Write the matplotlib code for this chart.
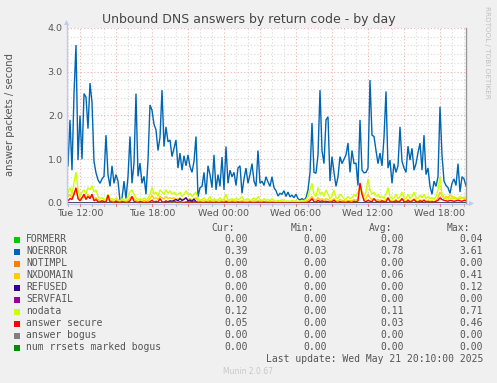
import numpy as np
import matplotlib
matplotlib.use('Agg')
import matplotlib.pyplot as plt
from matplotlib.lines import Line2D
from matplotlib.patches import Polygon, Rectangle

# ---------------- data (10-minute samples, Tue 11:00 .. Wed 20:10) ----------------
noerror = [
    0.85, 1.9, 0.75, 2.5, 3.61, 0.98, 2.0, 1.0, 2.5, 2.42,
    1.7, 2.74, 2.3, 0.95, 0.69, 0.53, 0.45, 0.55, 0.61, 1.55,
    0.65, 0.38, 0.85, 0.45, 0.65, 0.5, 0.05, 0.1, 0.5, 0.1,
    0.6, 1.52, 0.45, 0.91, 2.5, 0.61, 0.91, 0.45, 0.61, 0.2,
    0.98, 2.24, 2.12, 1.8, 1.67, 1.2, 1.5, 2.58, 1.29, 1.74,
    1.4, 1.44, 1.06, 1.25, 1.44, 0.8, 1.14, 0.75, 1.08, 0.85,
    1.1, 0.83, 0.7, 0.95, 1.52, 0.14, 0.35, 0.38, 0.7, 0.2,
    0.85, 0.65, 0.35, 1.1, 0.3, 0.65, 0.38, 1.05, 0.3, 1.29,
    0.45, 0.75, 0.6, 0.7, 0.4, 0.8, 0.85, 0.22, 0.55, 0.8,
    0.45, 0.65, 0.9, 0.5, 0.38, 1.2, 0.45, 0.5, 0.4, 0.6,
    0.48, 0.38, 0.6, 0.35, 0.28, 0.16, 0.22, 0.2, 0.28, 0.15,
    0.25, 0.14, 0.18, 0.12, 0.2, 0.1, 0.07, 0.1, 0.07, 0.12,
    0.3, 0.69, 1.83, 0.7, 0.68, 1.1, 2.58, 1.2, 0.9, 1.9,
    1.97, 0.5, 1.06, 0.7, 0.38, 0.6, 1.06, 0.9, 1.0, 1.1,
    1.37, 0.7, 1.2, 0.9, 0.91, 0.4, 1.9, 0.75, 0.69, 0.7,
    0.8, 2.81, 1.55, 1.52, 1.2, 0.9, 1.14, 0.85, 1.5, 2.55,
    0.8, 0.98, 0.45, 0.9, 0.7, 0.85, 1.74, 0.95, 0.8, 0.7,
    1.3, 0.98, 1.25, 0.75, 0.9, 1.15, 1.37, 0.75, 1.55, 0.65,
    0.8, 0.38, 0.2, 0.5, 0.38, 0.6, 2.2, 1.1, 0.5, 0.4,
    0.35, 0.22, 0.45, 0.55, 0.4, 0.9, 0.25, 0.6, 0.55, 0.39,
]
nodata = [
    0.25, 0.35, 0.2, 0.45, 0.71, 0.3, 0.15, 0.25, 0.3, 0.2,
    0.35, 0.3, 0.4, 0.25, 0.3, 0.15, 0.1, 0.12, 0.08, 0.1,
    0.2, 0.08, 0.1, 0.06, 0.12, 0.08, 0.05, 0.1, 0.07, 0.05,
    0.15, 0.25, 0.3, 0.2, 0.12, 0.08, 0.1, 0.06, 0.12, 0.08,
    0.1, 0.2, 0.35, 0.2, 0.25, 0.15, 0.3, 0.25, 0.2, 0.3,
    0.22, 0.28, 0.2, 0.25, 0.18, 0.2, 0.25, 0.15, 0.2, 0.28,
    0.18, 0.22, 0.15, 0.2, 0.25, 0.1, 0.05, 0.08, 0.12, 0.06,
    0.08, 0.15, 0.05, 0.1, 0.06, 0.08, 0.12, 0.05, 0.1, 0.2,
    0.06, 0.08, 0.1, 0.05, 0.12, 0.07, 0.1, 0.15, 0.06, 0.08,
    0.1, 0.05, 0.08, 0.12, 0.06, 0.15, 0.08, 0.05, 0.1, 0.06,
    0.08, 0.05, 0.1, 0.06, 0.04, 0.06, 0.04, 0.08, 0.05, 0.04,
    0.05, 0.03, 0.06, 0.04, 0.05, 0.03, 0.05, 0.04, 0.06, 0.08,
    0.15, 0.3, 0.45, 0.2, 0.15, 0.35, 0.2, 0.25, 0.15, 0.3,
    0.2, 0.1, 0.15, 0.3, 0.12, 0.1, 0.2, 0.15, 0.1, 0.08,
    0.15, 0.1, 0.12, 0.2, 0.15, 0.25, 0.35, 0.2, 0.15, 0.25,
    0.55, 0.3, 0.2, 0.25, 0.15, 0.2, 0.12, 0.15, 0.1, 0.2,
    0.35, 0.15, 0.1, 0.12, 0.2, 0.1, 0.15, 0.25, 0.12, 0.1,
    0.2, 0.1, 0.15, 0.25, 0.12, 0.1, 0.18, 0.12, 0.2, 0.1,
    0.15, 0.1, 0.12, 0.08, 0.15, 0.3, 0.6, 0.2, 0.12, 0.1,
    0.08, 0.12, 0.1, 0.15, 0.08, 0.1, 0.15, 0.1, 0.14, 0.12,
]
nxdomain = [
    0.15, 0.2, 0.1, 0.25, 0.3, 0.15, 0.1, 0.12, 0.15, 0.1,
    0.2, 0.15, 0.18, 0.1, 0.12, 0.08, 0.05, 0.06, 0.04, 0.05,
    0.1, 0.04, 0.05, 0.03, 0.06, 0.04, 0.03, 0.05, 0.04, 0.03,
    0.06, 0.12, 0.15, 0.1, 0.06, 0.04, 0.05, 0.03, 0.06, 0.04,
    0.05, 0.1, 0.18, 0.1, 0.12, 0.08, 0.15, 0.12, 0.1, 0.14,
    0.1, 0.12, 0.1, 0.12, 0.08, 0.1, 0.12, 0.08, 0.1, 0.12,
    0.08, 0.1, 0.07, 0.1, 0.12, 0.05, 0.03, 0.04, 0.05, 0.03,
    0.04, 0.06, 0.03, 0.05, 0.03, 0.04, 0.05, 0.03, 0.04, 0.06,
    0.03, 0.04, 0.05, 0.03, 0.05, 0.03, 0.04, 0.05, 0.03, 0.04,
    0.04, 0.03, 0.04, 0.05, 0.03, 0.05, 0.04, 0.03, 0.04, 0.03,
    0.03, 0.02, 0.04, 0.03, 0.02, 0.03, 0.02, 0.03, 0.02, 0.02,
    0.02, 0.02, 0.03, 0.02, 0.02, 0.02, 0.03, 0.02, 0.03, 0.04,
    0.06, 0.1, 0.15, 0.08, 0.06, 0.12, 0.08, 0.1, 0.06, 0.1,
    0.08, 0.05, 0.06, 0.1, 0.05, 0.04, 0.08, 0.06, 0.05, 0.04,
    0.06, 0.05, 0.05, 0.08, 0.06, 0.1, 0.41, 0.25, 0.08, 0.1,
    0.2, 0.12, 0.08, 0.1, 0.06, 0.08, 0.05, 0.06, 0.04, 0.08,
    0.12, 0.06, 0.04, 0.05, 0.08, 0.04, 0.06, 0.1, 0.05, 0.04,
    0.08, 0.04, 0.06, 0.1, 0.05, 0.04, 0.07, 0.05, 0.08, 0.04,
    0.06, 0.04, 0.05, 0.03, 0.06, 0.12, 0.25, 0.18, 0.1, 0.15,
    0.12, 0.18, 0.15, 0.1, 0.12, 0.08, 0.1, 0.12, 0.1, 0.08,
]
answer_secure = [
    0.05, 0.1, 0.08, 0.2, 0.35, 0.1, 0.05, 0.12, 0.2, 0.08,
    0.15, 0.1, 0.2, 0.05, 0.08, 0.03, 0.02, 0.05, 0.03, 0.02,
    0.18, 0.03, 0.02, 0.01, 0.04, 0.02, 0.01, 0.03, 0.02, 0.01,
    0.02, 0.05, 0.15, 0.04, 0.02, 0.01, 0.03, 0.02, 0.01, 0.02,
    0.01, 0.03, 0.06, 0.02, 0.04, 0.02, 0.1, 0.03, 0.02, 0.05,
    0.02, 0.03, 0.02, 0.04, 0.02, 0.01, 0.03, 0.02, 0.01, 0.02,
    0.01, 0.02, 0.01, 0.02, 0.03, 0.01, 0.02, 0.01, 0.01, 0.02,
    0.01, 0.02, 0.01, 0.01, 0.02, 0.01, 0.01, 0.02, 0.01, 0.03,
    0.01, 0.01, 0.02, 0.01, 0.01, 0.02, 0.01, 0.02, 0.01, 0.01,
    0.01, 0.02, 0.01, 0.01, 0.01, 0.02, 0.01, 0.01, 0.02, 0.01,
    0.01, 0.01, 0.01, 0.01, 0.0, 0.01, 0.0, 0.01, 0.0, 0.01,
    0.0, 0.01, 0.0, 0.0, 0.01, 0.0, 0.0, 0.01, 0.0, 0.01,
    0.02, 0.05, 0.1, 0.03, 0.02, 0.06, 0.03, 0.05, 0.02, 0.04,
    0.03, 0.02, 0.03, 0.06, 0.02, 0.01, 0.03, 0.02, 0.02, 0.01,
    0.03, 0.02, 0.01, 0.04, 0.02, 0.05, 0.46, 0.2, 0.05, 0.03,
    0.06, 0.04, 0.03, 0.1, 0.04, 0.03, 0.02, 0.05, 0.03, 0.02,
    0.12, 0.03, 0.02, 0.03, 0.05, 0.02, 0.04, 0.1, 0.03, 0.02,
    0.06, 0.02, 0.04, 0.08, 0.03, 0.02, 0.05, 0.03, 0.06, 0.02,
    0.03, 0.02, 0.03, 0.02, 0.04, 0.06, 0.12, 0.08, 0.06, 0.05,
    0.04, 0.06, 0.05, 0.04, 0.05, 0.06, 0.05, 0.04, 0.06, 0.05,
]
refused = ([0.0] * 49 +
           [0.02, 0.03, 0.05, 0.04, 0.06, 0.08, 0.05, 0.1, 0.06, 0.08,
            0.12, 0.05, 0.07, 0.04, 0.09, 0.03] +
           [0.0] * 135)
formerr = ([0.0] * 58 +
           [0.01, 0.02, 0.03, 0.04, 0.02, 0.03, 0.02, 0.01] +
           [0.0] * 134)
zeros = [0.0] * 200

series_names = ["FORMERR", "NOERROR", "NOTIMPL", "NXDOMAIN", "REFUSED",
                "SERVFAIL", "nodata", "answer secure", "answer bogus",
                "num rrsets marked bogus"]
series_values = [formerr, noerror, zeros, nxdomain, refused,
                 zeros, nodata, answer_secure, zeros, zeros]
series_colors = ["#00CC00", "#0066B3", "#FF8000", "#FFCC00", "#330099",
                 "#990099", "#CCFF00", "#FF0000", "#808080", "#008F00"]
cur_vals = ["0.00", "0.39", "0.00", "0.08", "0.00", "0.00", "0.12", "0.05", "0.00", "0.00"]
min_vals = ["0.00", "0.03", "0.00", "0.00", "0.00", "0.00", "0.00", "0.00", "0.00", "0.00"]
avg_vals = ["0.00", "0.78", "0.00", "0.06", "0.00", "0.00", "0.11", "0.03", "0.00", "0.00"]
max_vals = ["0.04", "3.61", "0.00", "0.41", "0.12", "0.00", "0.71", "0.46", "0.00", "0.00"]

x_tick_hours = [12, 18, 24, 30, 36, 42]
x_tick_labels = ["Tue 12:00", "Tue 18:00", "Wed 00:00", "Wed 06:00", "Wed 12:00", "Wed 18:00"]
y_ticks = [0.0, 1.0, 2.0, 3.0, 4.0]

# ---------------- figure ----------------
W, H = 497, 383
fig = plt.figure(figsize=(W / 100, H / 100), dpi=100, facecolor="#F0F0F0")


def fx(x):
    return x / W


def fy(y):
    return 1 - y / H


L, R, T, B = 67, 466, 28, 203
ax = fig.add_axes([fx(L), fy(B), (R - L) / W, (B - T) / H])
ax.set_facecolor("white")

hours = 11 + np.arange(len(noerror)) / 6.0
ax.set_xlim(11 - 1.0 / 12, 11 + (len(noerror) - 1) / 6.0)
ax.set_ylim(0, 4)

# grid
for h in range(11, 45):
    major = (h % 3 == 0)
    ax.axvline(h, color="#F2B0B0" if major else "#DADADA",
               ls=(0, (1, 2)), lw=0.8, zorder=0)
for v in np.arange(0.2, 4.01, 0.2):
    major = abs(v - round(v)) < 1e-6
    ax.axhline(v, color="#F2B0B0" if major else "#DADADA",
               ls=(0, (1, 2)), lw=0.8, zorder=0)

for vals, col in zip(series_values, series_colors):
    ax.plot(hours, vals, color=col, lw=1.0, zorder=2, solid_joinstyle="miter")

ax.set_yticks(y_ticks)
ax.set_yticklabels([f"{v:.1f}" for v in y_ticks])
ax.set_xticks(x_tick_hours)
ax.set_xticklabels(x_tick_labels)
ax.tick_params(axis="both", length=0, labelsize=6.8, labelcolor="#555555", pad=3)
ax.tick_params(axis="x", pad=4)

for s in ["top", "left", "bottom"]:
    ax.spines[s].set_visible(False)
ax.spines["right"].set_color("#999999")
ax.spines["right"].set_linewidth(1.0)

# axis lines with arrows (light blue)
axc = "#C3C8F0"
fig.add_artist(Line2D([fx(L - 0.5), fx(L - 0.5)], [fy(B), fy(T - 4)], color=axc, lw=1.0))
fig.add_artist(Polygon([[fx(L - 3), fy(T - 3)], [fx(L + 2), fy(T - 3)], [fx(L - 0.5), fy(T - 8)]],
                       closed=True, color=axc, lw=0))
fig.add_artist(Line2D([fx(L), fx(R + 4)], [fy(B + 0.5), fy(B + 0.5)], color=axc, lw=1.0))
fig.add_artist(Polygon([[fx(R + 3), fy(B - 2)], [fx(R + 3), fy(B + 3)], [fx(R + 8), fy(B + 0.5)]],
                       closed=True, color=axc, lw=0))

# tick marks under axis
for h in range(11, 45):
    x = L + (h - (11 - 1.0 / 12)) * 12
    col = "#E08080" if h % 3 == 0 else "#BBBBBB"
    fig.add_artist(Line2D([fx(x), fx(x)], [fy(B + 1), fy(B + 3)], color=col, lw=0.8))

# texts
fig.text(fx(248.5), fy(19), "Unbound DNS answers by return code - by day",
         ha="center", va="center", fontsize=9, color="#444444")
fig.text(fx(10), fy(115), "answer packets / second", rotation=90,
         ha="center", va="center", fontsize=7.2, color="#555555")
fig.text(fx(487), fy(6), "RRDTOOL / TOBI OETIKER", rotation=270,
         ha="center", va="top", fontsize=5.2, color="#C0C0C0")

mono = "DejaVu Sans Mono"
tc = "#555555"
fs = 7.0
hdr_y = 228
for label, xr in zip(["Cur:", "Min:", "Avg:", "Max:"], [235, 314, 392, 470]):
    fig.text(fx(xr), fy(hdr_y), label, ha="right", va="center",
             family=mono, fontsize=fs, color=tc)

row0 = 239.5
for k, name in enumerate(series_names):
    y = row0 + 12 * k
    fig.add_artist(Rectangle((fx(14), fy(y + 3)), 6 / W, 6 / H,
                             color=series_colors[k], lw=0))
    fig.text(fx(26), fy(y), name, ha="left", va="center",
             family=mono, fontsize=fs, color=tc)
    for vals, xr in zip([cur_vals, min_vals, avg_vals, max_vals], [248, 327, 404, 483]):
        fig.text(fx(xr), fy(y), vals[k], ha="right", va="center",
                 family=mono, fontsize=fs, color=tc)

fig.text(fx(483), fy(359.5), "Last update: Wed May 21 20:10:00 2025",
         ha="right", va="center", family=mono, fontsize=fs, color=tc)
fig.text(fx(248), fy(372), "Munin 2.0.67", ha="center", va="center",
         fontsize=5.5, color="#C8C8C8")

fig.savefig("out.png", dpi=100, facecolor=fig.get_facecolor())
